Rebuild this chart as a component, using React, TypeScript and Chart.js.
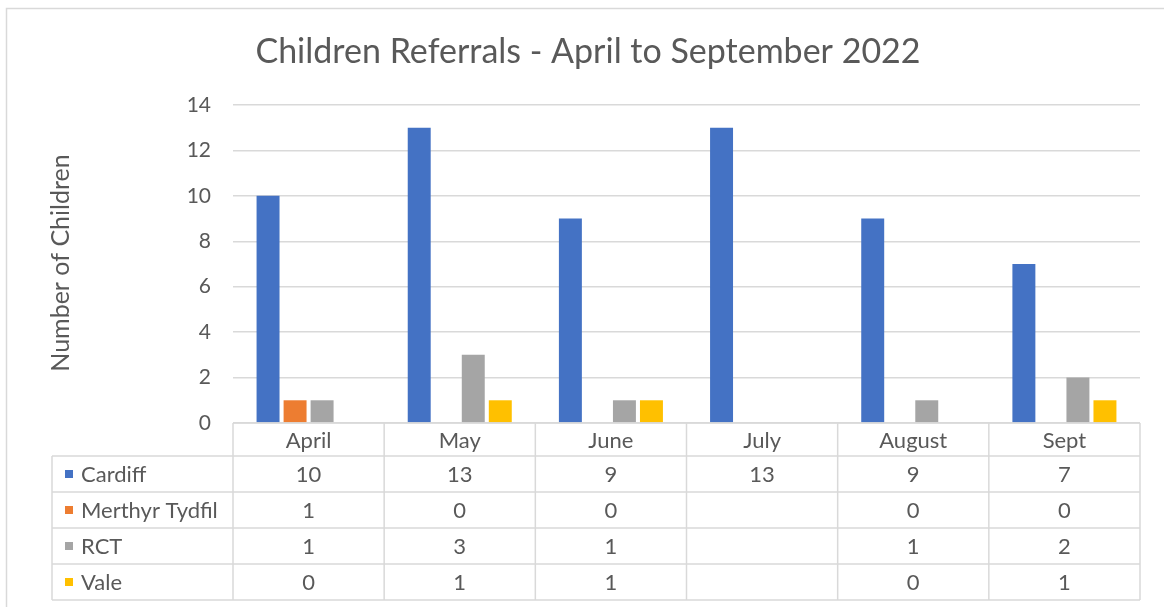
import React, { useEffect, useRef } from "react";
import { Chart, registerables } from "chart.js";

Chart.register(...registerables);

const categories = ["April", "May", "June", "July", "August", "Sept"];
const seriesNames = ["Cardiff", "Merthyr Tydfil", "RCT", "Vale"];
const cardiff = [10, 13, 9, 13, 9, 7];
const merthyr = [1, 0, 0, null, 0, 0];
const rct = [1, 3, 1, null, 1, 2];
const vale = [0, 1, 1, null, 0, 1];
const seriesColors = ["#4472C4", "#ED7D31", "#A5A5A5", "#FFC000"];
const yMax = 14;
const yStep = 2;
const titleText = "Children Referrals - April to September 2022";
const yTitleText = "Number of Children";

const FONT = "Lato, 'Open Sans', sans-serif";
const TEXT = "#595959";
const LINE = "#D9D9D9";

const seriesData = [cardiff, merthyr, rct, vale];

const tablePlugin = {
  id: "tablePlugin",
  afterDraw(chart: any) {
    const ctx = chart.ctx as CanvasRenderingContext2D;
    const { left, right, bottom } = chart.chartArea;
    const xs = chart.scales.x;
    const n = categories.length;
    const colW = (right - left) / n;
    const headerH = 33;
    const rowH = 36;
    const labelLeft = 52;
    const rowsTop = bottom + headerH;
    const tableBottom = rowsTop + rowH * seriesNames.length;

    ctx.save();
    ctx.strokeStyle = LINE;
    ctx.lineWidth = 1.5;
    ctx.strokeRect(6.5, 8.5, 1200, 700);

    ctx.lineWidth = 1.5;
    ctx.beginPath();
    ctx.moveTo(left, bottom);
    ctx.lineTo(right, bottom);
    for (let r = 0; r <= seriesNames.length; r++) {
      const y = rowsTop + r * rowH;
      ctx.moveTo(labelLeft, y);
      ctx.lineTo(right, y);
    }
    for (let i = 0; i <= n; i++) {
      const x = left + i * colW;
      ctx.moveTo(x, bottom);
      ctx.lineTo(x, tableBottom);
    }
    ctx.moveTo(labelLeft, rowsTop);
    ctx.lineTo(labelLeft, tableBottom);
    ctx.stroke();

    ctx.fillStyle = TEXT;
    ctx.font = `22px ${FONT}`;
    ctx.textBaseline = "middle";
    ctx.textAlign = "center";
    categories.forEach((c, i) => {
      const cx = xs.getPixelForValue(i);
      ctx.fillText(c, cx, bottom + headerH / 2 + 1);
    });
    seriesNames.forEach((name, r) => {
      const cy = rowsTop + r * rowH + rowH / 2;
      ctx.fillStyle = seriesColors[r];
      ctx.fillRect(65, cy - 4, 8, 8);
      ctx.fillStyle = TEXT;
      ctx.textAlign = "left";
      ctx.fillText(name, 81, cy + 1);
      ctx.textAlign = "center";
      seriesData[r].forEach((v, i) => {
        if (v === null || v === undefined) return;
        ctx.fillText(String(v), xs.getPixelForValue(i), cy + 1);
      });
    });

    ctx.font = `34px ${FONT}`;
    ctx.textAlign = "center";
    ctx.fillText(titleText, 588, 52);

    ctx.translate(61, 263);
    ctx.rotate(-Math.PI / 2);
    ctx.font = `25px ${FONT}`;
    ctx.fillText(yTitleText, 0, 0);
    ctx.restore();
  },
};

export default function App() {
  const ref = useRef<HTMLCanvasElement | null>(null);
  useEffect(() => {
    document.body.style.margin = "0";
    const chart = new Chart(ref.current as HTMLCanvasElement, {
      type: "bar",
      data: {
        labels: categories,
        datasets: seriesNames.map((name, i) => ({
          label: name,
          data: seriesData[i] as any,
          backgroundColor: seriesColors[i],
          borderWidth: 0,
          barPercentage: 0.85,
          categoryPercentage: 0.715,
        })),
      },
      options: {
        animation: false,
        responsive: false,
        maintainAspectRatio: false,
        layout: { padding: { top: 105, right: 24, bottom: 184, left: 0 } },
        plugins: {
          legend: { display: false },
          title: { display: false },
          tooltip: { enabled: false },
        },
        scales: {
          x: { display: false },
          y: {
            min: 0,
            max: yMax,
            ticks: {
              stepSize: yStep,
              color: TEXT,
              font: { family: FONT, size: 21 },
              padding: 22,
            },
            grid: { color: LINE, lineWidth: 1.5, drawTicks: false },
            border: { display: false },
            afterFit: (scale: any) => {
              scale.width = 233;
            },
          },
        },
      },
      plugins: [tablePlugin],
    });
    return () => chart.destroy();
  }, []);
  return (
    <div style={{ position: "fixed", left: 0, top: 0, width: 1164, height: 607, background: "#fff" }}>
      <canvas ref={ref} width={1164} height={607} />
    </div>
  );
}
